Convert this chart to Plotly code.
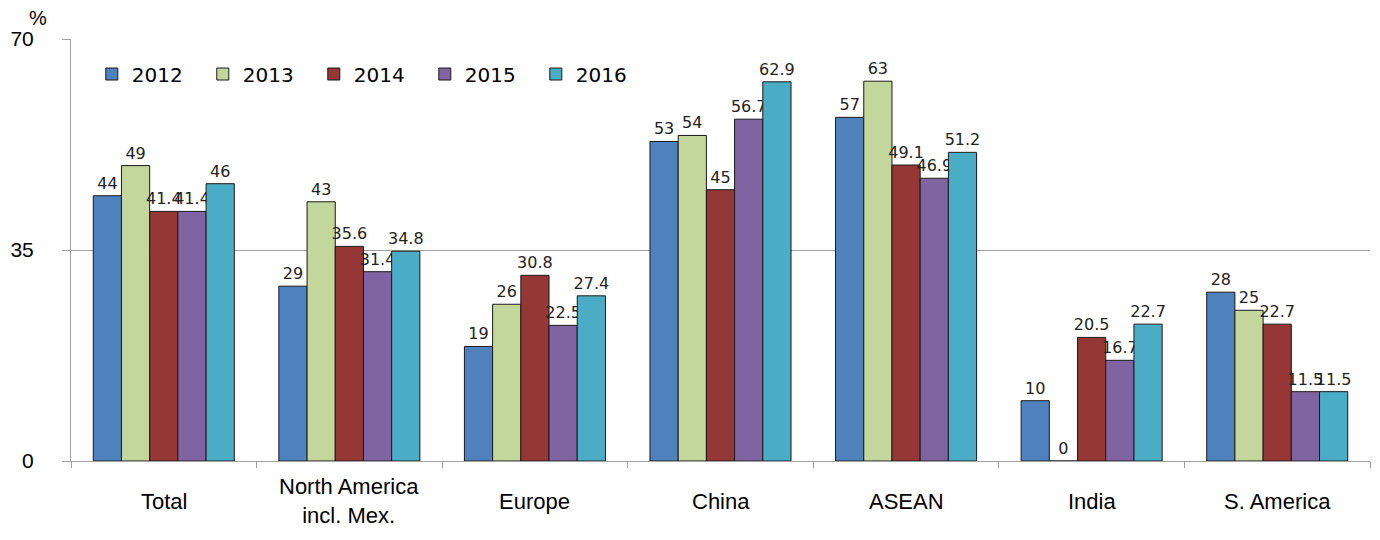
import plotly.graph_objects as go

categories = ["Total", "North America<br>incl. Mex.", "Europe", "China", "ASEAN", "India", "S. America"]
years = ["2012", "2013", "2014", "2015", "2016"]
v2012 = [44, 29, 19, 53, 57, 10, 28]
v2013 = [49, 43, 26, 54, 63, 0, 25]
v2014 = [41.4, 35.6, 30.8, 45, 49.1, 20.5, 22.7]
v2015 = [41.4, 31.4, 22.5, 56.7, 46.9, 16.7, 11.5]
v2016 = [46, 34.8, 27.4, 62.9, 51.2, 22.7, 11.5]
series = [v2012, v2013, v2014, v2015, v2016]
colors = ["#4F81BD", "#C3D69B", "#953735", "#8064A2", "#4BACC6"]
yticks = [0, 35, 70]

fig = go.Figure()
for name, vals, col in zip(years, series, colors):
    fig.add_trace(go.Bar(
        x=categories, y=vals, name=name,
        marker=dict(color=col, line=dict(color="#1a1a1a", width=1)),
        text=[str(v) for v in vals], textposition="outside",
        textfont=dict(family="DejaVu Sans", size=16, color="#222"),
        cliponaxis=False, constraintext="none",
    ))

for c in categories:
    fig.add_annotation(x=c, y=0, xref="x", yref="y", text=c, showarrow=False,
                       yanchor="middle", yshift=-40,
                       font=dict(family="Liberation Sans", size=22, color="#000"))

fig.add_annotation(x=0, y=1, xref="paper", yref="paper", text="%", showarrow=False,
                   xanchor="right", yanchor="bottom", xshift=-22, yshift=8,
                   font=dict(family="Liberation Sans", size=20, color="#000"))

fig.update_layout(
    width=1380, height=540,
    margin=dict(l=68, r=10, t=39, b=79),
    paper_bgcolor="white", plot_bgcolor="white",
    barmode="group", bargap=0.24, bargroupgap=0,
    legend=dict(orientation="h", x=0.016, y=0.917, xanchor="left", yanchor="middle",
                font=dict(family="DejaVu Sans", size=20, color="#000"),
                entrywidth=66, entrywidthmode="pixels", bgcolor="rgba(0,0,0,0)",
                traceorder="normal"),
    showlegend=True,
)
fig.update_xaxes(showticklabels=False, showline=True, linecolor="#A0A0A0", linewidth=1,
                 ticks="outside", tickson="boundaries", ticklen=6, tickcolor="#A0A0A0",
                 showgrid=False)
fig.update_yaxes(range=[0, 70], tickvals=yticks, ticktext=[str(t) for t in yticks],
                 showline=True, linecolor="#A0A0A0", linewidth=1,
                 ticks="outside", ticklen=8, tickcolor="#A0A0A0", ticklabelstandoff=24,
                 showgrid=True, gridcolor="#A0A0A0", gridwidth=1, zeroline=False,
                 tickfont=dict(family="Liberation Sans", size=21, color="#000"))

fig.write_html("out.html")
